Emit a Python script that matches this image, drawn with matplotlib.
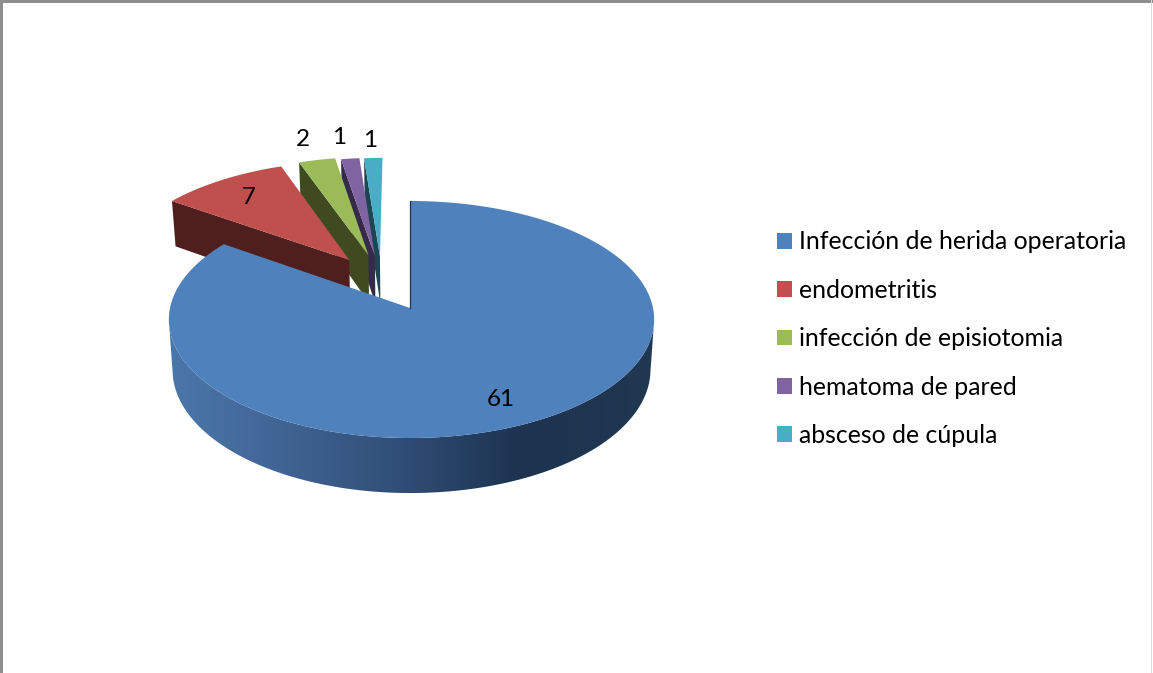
import numpy as np
import matplotlib
matplotlib.use("Agg")
import matplotlib.pyplot as plt
from matplotlib.patches import Polygon, Patch, PathPatch, Rectangle
from matplotlib.path import Path
from matplotlib.colors import LinearSegmentedColormap

categories = ["Infección de herida operatoria", "endometritis",
              "infección de episiotomia", "hematoma de pared", "absceso de cúpula"]
values = [61, 7, 2, 1, 1]

top_colors = ["#4F81BD", "#C0504D", "#9BBB59", "#8064A2", "#4BACC6"]
wall_colors = ["#1D3350", "#4F1F1D", "#404A20", "#352A4A", "#1D4653"]
# explosion of each slice on the pie plane (pie radius = 1)
explode_u = [0.0, -0.262, -0.18, -0.152, -0.13]
explode_v = [0.0, 0.426, 0.47, 0.46, 0.46]
label_radius = [0.786, 0.785, 1.26, 1.26, 1.24]
label_dx = [-3, 1, -2, -5, -2]
label_dy = [3.5, 1, 2, 2, 3.5]

CX, CY, RX, RY, K, DEPTH, SHRINK = 410.0, 308.0, 241.5, 117.4, 0.097, 49.7, 0.985
MAIN_SHIFT = 1.5


def project(u, v, bottom=False):
    """Perspective projection of pie-plane points to figure pixels."""
    d = 1 + K * np.asarray(v, float)
    x = RX * np.asarray(u, float) / d
    y = -RY * np.asarray(v, float) / d
    if bottom:
        return CX + SHRINK * x, CY + y + DEPTH / d
    return CX + x, CY + y


def arc(a0, a1, du=0.0, dv=0.0, n=240):
    t = np.radians(np.linspace(a0, a1, n))
    return np.sin(t) + du, np.cos(t) + dv


fig = plt.figure(figsize=(11.53, 6.73), dpi=100, facecolor="white")
ax = fig.add_axes([0, 0, 1, 1])
ax.set_xlim(0, 1153)
ax.set_ylim(673, 0)
ax.axis("off")
plt.rcParams["font.family"] = ["Lato", "DejaVu Sans"]

# frame of the original picture
ax.add_patch(Rectangle((0, 0), 2.5, 673, fc="#8E8E8E", ec="none"))
ax.add_patch(Rectangle((0, 0), 1153, 2.5, fc="#8E8E8E", ec="none"))
ax.add_patch(Rectangle((1151, 0), 1, 673, fc="#D9D9D9", ec="none"))

edges = np.cumsum([0] + values) / sum(values) * 360.0

# exploded slices, far to near
for i in [4, 3, 2, 1]:
    a0, a1 = edges[i], edges[i + 1]
    du, dv = explode_u[i], explode_v[i]
    # radial wall at the slice's first edge
    ou, ov = np.sin(np.radians(a0)) + du, np.cos(np.radians(a0)) + dv
    wall_u = np.array([du, ou])
    wall_v = np.array([dv, ov])
    tx, ty = project(wall_u, wall_v)
    bx, by = project(wall_u, wall_v, bottom=True)
    ax.add_patch(Polygon(np.c_[np.r_[tx, bx[::-1]], np.r_[ty, by[::-1]]],
                         fc=wall_colors[i], ec="none", zorder=2))
    # top face
    u, v = arc(a0, a1, du, dv, 80)
    x, y = project(np.r_[du, u], np.r_[dv, v])
    ax.add_patch(Polygon(np.c_[x, y], fc=top_colors[i], ec="none", zorder=2))

# main slice: front wall with horizontal shading (between the silhouette tangents)
u, v = arc(96, 264)
tx, ty = project(u, v)
bx, by = project(u, v, bottom=True)
tx = tx + MAIN_SHIFT * np.abs(u)
bx = bx + MAIN_SHIFT * np.abs(u)
wall_path = Path(np.c_[np.r_[tx, bx[::-1]], np.r_[ty, by[::-1]]])
clip = PathPatch(wall_path, fc="none", ec="none", transform=ax.transData)
ax.add_patch(clip)
shade = LinearSegmentedColormap.from_list(
    "wall", [(0.0, "#4A78AC"), (0.18, "#44699A"), (0.45, "#32517A"),
             (0.72, "#1D3350"), (1.0, "#203852")])
img = ax.imshow(np.linspace(0, 1, 512)[None, :], cmap=shade, vmin=0, vmax=1,
                extent=(165, 658, 500, 300), aspect="auto", zorder=3)
img.set_clip_path(clip)
ax.set_xlim(0, 1153)
ax.set_ylim(673, 0)

# main slice: top face
u, v = arc(edges[0], edges[1], n=500)
x, y = project(np.r_[0, u], np.r_[0, v])
x = x + MAIN_SHIFT * np.abs(np.r_[0, u])
ax.add_patch(Polygon(np.c_[x, y], fc=top_colors[0], ec="none", zorder=4))
x0, y0 = project(np.array([0.0, 0.0]), np.array([0.0, 1.0]))
ax.plot(x0 - 0.5, y0, color=wall_colors[0], lw=0.9, zorder=5)

# value labels
mids = (edges[:-1] + edges[1:]) / 2
for val, mid, r, du, dv, ldx, ldy in zip(values, mids, label_radius, explode_u, explode_v,
                                         label_dx, label_dy):
    lu = r * np.sin(np.radians(mid)) + du
    lv = r * np.cos(np.radians(mid)) + dv
    lx, ly = project(lu, lv)
    ax.text(float(lx) + ldx, float(ly) + ldy, str(val), ha="center", va="center",
            fontsize=17.5, color="black", zorder=6)

# legend
handles = [Patch(fc=c, ec="none") for c in top_colors]
fs = 17.9
px = fs * 100 / 72
ax.legend(handles, categories, loc="upper left", bbox_to_anchor=(777 / 1153, 1 - 230.4 / 673),
          bbox_transform=ax.transAxes, frameon=False, fontsize=fs, borderpad=0, borderaxespad=0,
          handlelength=15 / px, handleheight=15 / px, handletextpad=7 / px,
          labelspacing=25.4 / px, labelcolor="black")

fig.savefig("out.png", dpi=100)
